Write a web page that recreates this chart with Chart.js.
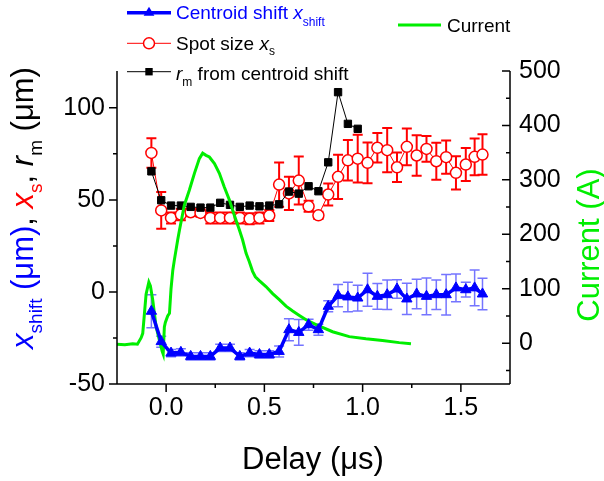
<!DOCTYPE html>
<html>
<head>
<meta charset="utf-8">
<script src="https://cdn.jsdelivr.net/npm/chart.js@4.4.0/dist/chart.umd.min.js"></script>
<style>
  body { margin: 0; background: #fff; }
  #wrap { width: 604px; height: 481px; position: relative; }
</style>
</head>
<body>
<div id="wrap"><canvas id="chart"></canvas></div>
<script>
// delay (us) for the spot / shift measurements
const delay = [-0.075, -0.025, 0.025, 0.075, 0.125, 0.175, 0.225, 0.275, 0.325, 0.375, 0.425, 0.475,
  0.525, 0.575, 0.625, 0.675, 0.725, 0.775, 0.825, 0.875, 0.925, 0.975, 1.025, 1.075, 1.125, 1.175,
  1.225, 1.275, 1.325, 1.375, 1.425, 1.475, 1.525, 1.57, 1.61];

const shiftVals = [-10.5, -27, -33.2, -32.8, -35, -35, -35, -30.4, -30.4, -35, -33.2, -34,
  -34, -32.3, -20.5, -22, -17.8, -20.5, -7.8, -2, -2.7, -3.3, 1.2, -2.4, -1.5, 1.6,
  -3.8, -1.1, -2.4, -1.5, -1.5, 2.2, 1.2, 2.2, -1.1];
const shiftErr = [9, 3, 2, 2, 2, 2, 2, 2, 2, 2, 2, 2,
  2, 3, 6, 7, 3, 3, 3, 6, 8, 7, 9, 7, 8, 5,
  8.5, 8, 10, 8, 11, 7.5, 4, 9.7, 8.6];

const spotVals = [75.5, 44.3, 40.2, 42.0, 43.3, 42.9, 40.2, 40.2, 40.2, 40.2, 39.7, 40.2,
  41.5, 58.3, 53.5, 60.5, 46.5, 41.6, 52.9, 62.5, 71.5, 72.4, 70.1, 78.3, 77.0, 67.7,
  78.8, 74.1, 77.7, 71.0, 73.2, 64.7, 69.2, 73.4, 74.6];
const spotErr = [8, 10, 3, 3, 2, 2, 3, 3, 3, 3, 3, 3,
  3, 12, 9, 13, 3, 2, 6, 12, 11, 13, 11, 8, 12, 8,
  10, 11, 7, 10, 9, 9, 9, 10, 11];

// r_m only for the first 22 delays
const rmVals = [65.5, 49.8, 46.9, 46.9, 46.2, 45.8, 45.8, 48.4, 47.3, 46.2, 46.9, 46.5,
  46.9, 47.6, 54.5, 53.4, 57.4, 54.7, 70.4, 108.5, 91.3, 88.6];

const currentT = [-0.25, -0.21, -0.17, -0.146, -0.127, -0.119, -0.102, -0.088, -0.080, -0.068,
  -0.051, -0.034, -0.020, -0.015, -0.009, -0.004, 0.008, 0.017, 0.025, 0.034, 0.042, 0.059,
  0.068, 0.093, 0.118, 0.144, 0.169, 0.186, 0.203, 0.220, 0.246, 0.271, 0.296, 0.322, 0.347,
  0.373, 0.389, 0.407, 0.423, 0.440, 0.454, 0.474, 0.508, 0.542, 0.576, 0.610, 0.644, 0.678,
  0.712, 0.763, 0.847, 0.932, 1.017, 1.101, 1.186, 1.246];
const currentA = [-2, -3, -1, -2, 10, 18, 90, 112, 105, 79,
  30, 5, -15, -20, 30, 38, 50, 55, 100, 134, 153, 190,
  208, 254, 281, 312, 339, 349, 345, 342, 330, 312, 287, 263, 235,
  208, 190, 165, 150, 132, 122, 115, 104, 91, 80, 68, 59, 51,
  43, 34, 21, 12, 8, 5, 1, -1];

const xTicks = [0, 0.5, 1, 1.5];
const xMinor = [0.25, 0.75, 1.25];
const leftTicks = [-50, 0, 50, 100];
const leftMinor = [-25, 25, 75];
const rightTicks = [0, 100, 200, 300, 400, 500];
const rightMinor = [-50, 50, 150, 250, 350, 450];

const BLUE = '#0000ff', RED = '#ff0000', GREEN = '#00ee00';
const FONT = '"Liberation Sans", Arial, sans-serif';

function font(size, italic) {
  return (italic ? 'italic ' : '') + size + 'px ' + FONT;
}

function drawRich(ctx, parts, x, y, center) {
  let w = 0;
  parts.forEach(p => {
    ctx.font = font(p.s, p.i);
    p.w = ctx.measureText(p.t).width;
    w += p.w;
  });
  let cx = center ? x - w / 2 : x;
  ctx.textAlign = 'left';
  ctx.textBaseline = 'alphabetic';
  parts.forEach(p => {
    ctx.font = font(p.s, p.i);
    ctx.fillStyle = p.c || '#000';
    ctx.fillText(p.t, cx, y + (p.dy || 0));
    cx += p.w;
  });
}

function pts(xs, ys) {
  return ys.map((v, i) => ({ x: xs[i], y: v }));
}

function drawBars(ctx, sx, sy, xs, ys, errs, color, lw) {
  ctx.strokeStyle = color;
  ctx.lineWidth = lw;
  ctx.beginPath();
  ys.forEach((v, i) => {
    const px = sx.getPixelForValue(xs[i]);
    const top = sy.getPixelForValue(v + errs[i]);
    const bot = sy.getPixelForValue(v - errs[i]);
    ctx.moveTo(px, top); ctx.lineTo(px, bot);
    ctx.moveTo(px - 5, top); ctx.lineTo(px + 5, top);
    ctx.moveTo(px - 5, bot); ctx.lineTo(px + 5, bot);
  });
  ctx.stroke();
}

const errorBars = {
  id: 'errorBars',
  beforeDatasetsDraw(chart) {
    const { ctx, scales } = chart;
    ctx.save();
    drawBars(ctx, scales.x, scales.y, delay, spotVals, spotErr, RED, 2);
    drawBars(ctx, scales.x, scales.y, delay, shiftVals, shiftErr, 'rgba(70,70,255,0.75)', 1.5);
    ctx.restore();
  }
};

const decorations = {
  id: 'decorations',
  afterDraw(chart) {
    const { ctx, chartArea: a, scales } = chart;
    ctx.save();
    // axes and ticks
    ctx.strokeStyle = '#000';
    ctx.lineWidth = 1.5;
    ctx.beginPath();
    ctx.moveTo(a.left, a.top); ctx.lineTo(a.left, a.bottom); ctx.lineTo(a.right, a.bottom);
    ctx.moveTo(a.right, a.top); ctx.lineTo(a.right, a.bottom);
    leftTicks.forEach(v => { const y = scales.y.getPixelForValue(v); ctx.moveTo(a.left - 8, y); ctx.lineTo(a.left, y); });
    leftMinor.forEach(v => { const y = scales.y.getPixelForValue(v); ctx.moveTo(a.left - 4, y); ctx.lineTo(a.left, y); });
    rightTicks.forEach(v => { const y = scales.y2.getPixelForValue(v); ctx.moveTo(a.right - 8, y); ctx.lineTo(a.right, y); });
    rightMinor.forEach(v => { const y = scales.y2.getPixelForValue(v); ctx.moveTo(a.right - 4, y); ctx.lineTo(a.right, y); });
    xTicks.forEach(v => { const x = scales.x.getPixelForValue(v); ctx.moveTo(x, a.bottom); ctx.lineTo(x, a.bottom + 8); });
    xMinor.forEach(v => { const x = scales.x.getPixelForValue(v); ctx.moveTo(x, a.bottom); ctx.lineTo(x, a.bottom + 4); });
    ctx.stroke();

    // legend samples
    const lx0 = 127, lx1 = 171, lm = 149;
    ctx.strokeStyle = BLUE; ctx.lineWidth = 3.5;
    ctx.beginPath(); ctx.moveTo(lx0, 12.7); ctx.lineTo(lx1, 12.7); ctx.stroke();
    ctx.fillStyle = BLUE;
    ctx.beginPath(); ctx.moveTo(lm, 6.7); ctx.lineTo(lm + 5.4, 15.7); ctx.lineTo(lm - 5.4, 15.7); ctx.closePath(); ctx.fill();

    ctx.strokeStyle = RED; ctx.lineWidth = 1;
    ctx.beginPath(); ctx.moveTo(lx0, 43.3); ctx.lineTo(lx1, 43.3); ctx.stroke();
    ctx.fillStyle = '#fff'; ctx.lineWidth = 1.5;
    ctx.beginPath(); ctx.arc(lm, 43.3, 5.5, 0, Math.PI * 2); ctx.fill(); ctx.stroke();

    ctx.strokeStyle = '#000'; ctx.lineWidth = 1;
    ctx.beginPath(); ctx.moveTo(lx0, 71.7); ctx.lineTo(lx1, 71.7); ctx.stroke();
    ctx.fillStyle = '#000';
    ctx.fillRect(lm - 3.7, 71.7 - 3.7, 7.4, 7.4);

    ctx.strokeStyle = GREEN; ctx.lineWidth = 3;
    ctx.beginPath(); ctx.moveTo(398, 25); ctx.lineTo(441, 25); ctx.stroke();

    // legend text
    drawRich(ctx, [{ t: 'Centroid shift ', c: BLUE, s: 19 }, { t: 'x', c: BLUE, s: 19, i: 1 }, { t: 'shift', c: BLUE, s: 12, dy: 7.5 }], 176, 18.5);
    drawRich(ctx, [{ t: 'Spot size ', s: 19 }, { t: 'x', s: 19, i: 1 }, { t: 's', s: 12, dy: 5.5 }], 176, 49.5);
    drawRich(ctx, [{ t: 'r', s: 19, i: 1 }, { t: 'm', s: 12, dy: 6.5 }, { t: ' from centroid shift', s: 19 }], 176, 79.5);
    drawRich(ctx, [{ t: 'Current', s: 19 }], 447, 31.7);

    // axis titles
    drawRich(ctx, [{ t: 'Delay (\u03bcs)', s: 31 }], 313, 469, true);

    ctx.save();
    ctx.translate(33, 208);
    ctx.rotate(-Math.PI / 2);
    drawRich(ctx, [
      { t: 'x', c: BLUE, s: 31, i: 1 }, { t: 'shift', c: BLUE, s: 19, dy: 9 }, { t: ' (\u03bcm)', c: BLUE, s: 31 },
      { t: ', ', s: 31 },
      { t: 'x', c: RED, s: 31, i: 1 }, { t: 's', c: RED, s: 19, dy: 9 },
      { t: ', ', s: 31 },
      { t: 'r', s: 31, i: 1 }, { t: 'm', s: 19, dy: 9 }, { t: ' (\u03bcm)', s: 31 }
    ], 0, 0, true);
    ctx.restore();

    ctx.save();
    ctx.translate(599, 245);
    ctx.rotate(-Math.PI / 2);
    drawRich(ctx, [{ t: 'Current (A)', c: GREEN, s: 31 }], 0, 0, true);
    ctx.restore();

    ctx.restore();
  }
};

const tickFont = { family: FONT, size: 25 };

new Chart(document.getElementById('chart'), {
  type: 'scatter',
  data: {
    datasets: [
      {
        label: 'Centroid shift',
        data: pts(delay, shiftVals),
        showLine: true,
        borderColor: BLUE,
        borderWidth: 3.5,
        pointStyle: 'triangle',
        pointRadius: 6,
        pointBackgroundColor: BLUE,
        pointBorderColor: BLUE,
        pointBorderWidth: 1,
        yAxisID: 'y'
      },
      {
        label: 'Current',
        data: pts(currentT, currentA),
        showLine: true,
        borderColor: GREEN,
        borderWidth: 3,
        pointRadius: 0,
        yAxisID: 'y2'
      },
      {
        label: 'r_m from centroid shift',
        data: pts(delay, rmVals),
        showLine: true,
        borderColor: '#000',
        borderWidth: 1,
        pointStyle: 'rect',
        pointRadius: 5.2,
        pointBackgroundColor: '#000',
        pointBorderColor: '#000',
        yAxisID: 'y'
      },
      {
        label: 'Spot size',
        data: pts(delay, spotVals),
        showLine: true,
        borderColor: RED,
        borderWidth: 1,
        pointStyle: 'circle',
        pointRadius: 5.5,
        pointBackgroundColor: '#fff',
        pointBorderColor: RED,
        pointBorderWidth: 1.5,
        yAxisID: 'y'
      }
    ]
  },
  options: {
    responsive: true,
    maintainAspectRatio: false,
    animation: false,
    layout: { padding: { top: 71, left: 0, right: 0, bottom: 0 } },
    plugins: { legend: { display: false }, tooltip: { enabled: false } },
    scales: {
      x: {
        type: 'linear',
        min: -0.25,
        max: 1.75,
        grid: { display: false, drawTicks: false },
        border: { display: false },
        afterBuildTicks: s => { s.ticks = xTicks.map(v => ({ value: v })); },
        afterFit: s => { s.height = 97; },
        ticks: { color: '#000', font: tickFont, padding: 9, maxRotation: 0, callback: v => v.toFixed(1) }
      },
      y: {
        position: 'left',
        min: -50,
        max: 120,
        grid: { display: false, drawTicks: false },
        border: { display: false },
        afterBuildTicks: s => { s.ticks = leftTicks.map(v => ({ value: v })); },
        afterFit: s => { s.width = 117; },
        ticks: { color: '#000', font: tickFont, padding: 12, callback: v => String(v) }
      },
      y2: {
        position: 'right',
        min: -75,
        max: 500,
        grid: { display: false, drawTicks: false },
        border: { display: false },
        afterBuildTicks: s => { s.ticks = rightTicks.map(v => ({ value: v })); },
        afterFit: s => { s.width = 94; },
        ticks: { color: '#000', font: tickFont, padding: 9, callback: v => String(v) }
      }
    }
  },
  plugins: [errorBars, decorations]
});
</script>
</body>
</html>
